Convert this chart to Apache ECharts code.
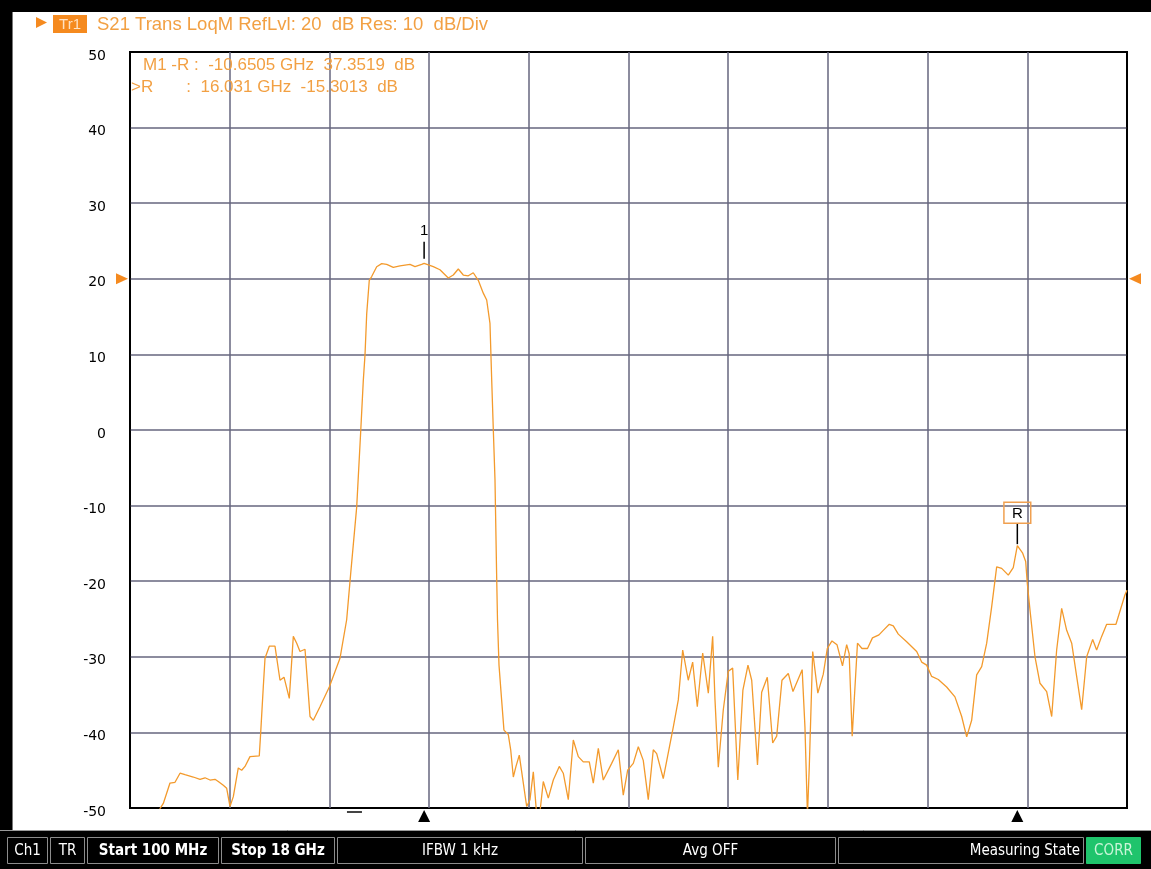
<!DOCTYPE html>
<html>
<head>
<meta charset="utf-8">
<script src="https://cdn.jsdelivr.net/npm/echarts@6/dist/echarts.min.js"></script>
<style>
  html, body { margin: 0; padding: 0; background: #fff; }
  #chart { width: 1151px; height: 869px; }
</style>
</head>
<body>
<div id="chart"></div>
<script>
// Sweep settings
const startGHz = 0.1;
const stopGHz = 18;
const freqDivisions = 10;
const refLevelDb = 20;
const dbPerDiv = 10;
const yMin = -50;
const yMax = 50;

// S21 trace: frequency (GHz) and magnitude (dB)
const freqGHz = [
  0.603, 0.698, 0.818, 0.908, 0.998, 1.087, 1.236, 1.357, 1.447, 1.536,
  1.626, 1.685, 1.775, 1.836, 1.895, 1.955, 2.044, 2.105, 2.165, 2.254,
  2.421, 2.446, 2.493, 2.524, 2.601, 2.703, 2.793, 2.865, 2.960, 3.032,
  3.093, 3.152, 3.242, 3.332, 3.391, 3.511, 3.678, 3.870, 3.990, 4.062,
  4.170, 4.242, 4.289, 4.319, 4.350, 4.396, 4.439, 4.529, 4.619, 4.709,
  4.827, 4.947, 5.127, 5.217, 5.337, 5.3805, 5.545, 5.665, 5.815, 5.904,
  5.994, 6.084, 6.174, 6.263, 6.353, 6.443, 6.504, 6.563, 6.594, 6.623,
  6.653, 6.684, 6.698, 6.725, 6.772, 6.814, 6.892, 6.935, 6.982, 7.030,
  7.089, 7.132, 7.222, 7.281, 7.341, 7.402, 7.461, 7.520, 7.610, 7.700,
  7.807, 7.879, 7.969, 8.059, 8.149, 8.238, 8.346, 8.418, 8.508, 8.597,
  8.748, 8.867, 8.956, 9.035, 9.136, 9.226, 9.315, 9.405, 9.495, 9.556,
  9.674, 9.854, 9.944, 10.023, 10.123, 10.202, 10.285, 10.382, 10.483, 10.561,
  10.603, 10.662, 10.752, 10.842, 10.920, 11.012, 11.104, 11.195, 11.262, 11.366,
  11.441, 11.542, 11.639, 11.711, 11.805, 11.919, 12.003, 12.168, 12.218, 12.263,
  12.296, 12.357, 12.449, 12.547, 12.619, 12.703, 12.793, 12.892, 12.967, 13.012,
  13.066, 13.161, 13.242, 13.341, 13.430, 13.547, 13.624, 13.732, 13.804, 13.894,
  14.044, 14.224, 14.314, 14.403, 14.493, 14.612, 14.762, 14.911, 15.032, 15.122,
  15.211, 15.301, 15.391, 15.481, 15.570, 15.660, 15.750, 15.869, 15.958, 16.031,
  16.127, 16.181, 16.210, 16.258, 16.348, 16.438, 16.558, 16.648, 16.737, 16.827,
  16.917, 17.007, 17.096, 17.186, 17.276, 17.384, 17.455, 17.545, 17.635, 17.802,
  17.964, 18.0
];
const s21dB = [
  -50.5, -49.4, -46.7, -46.6, -45.4, -45.6, -45.9, -46.2, -46.0, -46.3,
  -46.2, -46.5, -47.0, -47.4, -49.8, -48.5, -44.7, -45.0, -44.5, -43.2,
  -43.1, -40.1, -34.0, -30.2, -28.6, -28.6, -33.1, -32.7, -35.5, -27.3,
  -28.2, -29.3, -29.0, -37.9, -38.4, -36.6, -34.0, -30.2, -25.1, -19.0,
  -10.2, -0.2, 6.6, 9.9, 15.4, 19.8, 20.3, 21.6, 22.0, 21.9,
  21.5, 21.7, 21.9, 21.6, 21.9, 22.0506, 21.6, 21.2, 20.1, 20.5,
  21.3, 20.5, 20.4, 20.8, 19.8, 18.1, 17.2, 14.1, 6.6, 0.0,
  -6.6, -19.8, -25.1, -31.1, -35.7, -39.7, -40.3, -42.3, -45.9, -44.5,
  -43.0, -45.2, -49.8, -48.9, -45.2, -51.0, -50.5, -46.5, -48.7, -46.3,
  -44.5, -45.4, -48.9, -41.0, -43.2, -43.9, -43.9, -46.7, -42.1, -46.3,
  -44.1, -42.3, -48.3, -45.0, -44.1, -41.9, -43.7, -48.9, -42.3, -42.8,
  -46.1, -39.3, -35.7, -29.1, -33.1, -30.7, -36.6, -29.5, -34.8, -27.3,
  -35.7, -44.6, -37.0, -31.9, -31.5, -46.3, -34.4, -31.1, -33.1, -44.3,
  -34.7, -32.7, -41.4, -40.5, -33.1, -32.2, -34.6, -31.7, -39.3, -50.9,
  -44.5, -29.3, -34.8, -32.3, -28.9, -27.9, -28.4, -31.2, -28.4, -29.6,
  -40.5, -28.2, -28.9, -28.9, -27.5, -27.1, -26.5, -25.7, -25.9, -27.0,
  -28.0, -29.3, -30.7, -31.1, -32.6, -33.0, -34.0, -35.3, -37.9, -40.6,
  -38.4, -32.4, -31.3, -28.2, -23.4, -18.1, -18.3, -19.2, -18.2, -15.3013,
  -16.3, -17.4, -20.3, -23.8, -30.0, -33.5, -34.6, -37.9, -29.1, -23.6,
  -26.5, -28.2, -32.6, -37.0, -30.0, -27.7, -29.1, -27.3, -25.7, -25.7,
  -21.8, -21.2
];

// Markers
const markerM1 = { freq: 5.3805, value: 22.0506 };
const markerRef = { freq: 16.031, value: -15.3013 };
const stubMarkFreq = 4.13;

// Status bar entries
const statusItems = [
  { text: 'Ch1', bold: false },
  { text: 'TR', bold: false },
  { text: 'Start ' + Math.round(startGHz * 1000) + ' MHz', bold: true },
  { text: 'Stop ' + stopGHz + ' GHz', bold: true },
  { text: 'IFBW 1 kHz', bold: false },
  { text: 'Avg OFF', bold: false },
  { text: 'Measuring State', bold: false },
  { text: 'CORR', bold: false }
];

const traceTitle = 'S21 Trans LoqM RefLvl: ' + refLevelDb + '  dB Res: ' + dbPerDiv + '  dB/Div';
const readoutLines = [
  'M1 -R :  ' + (markerM1.freq - markerRef.freq).toFixed(4) + ' GHz  ' + (markerM1.value - markerRef.value).toFixed(4) + '  dB',
  '>R       :  ' + markerRef.freq.toFixed(3) + ' GHz  ' + markerRef.value.toFixed(4) + '  dB'
];

const ORANGE = '#f58a1f';
const TRACE = '#f39a2c';
const TEXT_ORANGE = '#f2a043';
const GRID = '#66667e';
const UI_FONT = '"DejaVu Sans Condensed", "DejaVu Sans", sans-serif';
const AXIS_FONT = '"DejaVu Sans", sans-serif';
const LABEL_FONT = '"Liberation Sans", Arial, sans-serif';

function lineColors(count) {
  const arr = [];
  for (let i = 0; i <= count; i++) arr.push(i === 0 || i === count ? '#000' : GRID);
  return arr;
}

const triUp = 'path://M5,0 L10,10 L0,10 Z';
const triRight = 'path://M0,0 L10,5 L0,10 Z';
const triLeft = 'path://M10,0 L0,5 L10,10 Z';

// Status bar layout (box x, width)
const statusBoxes = [[7, 41], [50, 35], [87, 132], [221, 114], [337, 246], [585, 251], [838, 246], [1086, 55]];
const statusGraphics = [];
statusGraphics.push({ type: 'rect', shape: { x: 0, y: 830, width: 1151, height: 39 }, style: { fill: '#000' }, z: 10 });
statusGraphics.push({ type: 'line', shape: { x1: 0, y1: 830.5, x2: 1151, y2: 830.5 }, style: { stroke: '#9a9a9a', lineWidth: 1 }, z: 11 });
statusItems.forEach((item, i) => {
  const [bx, bw] = statusBoxes[i];
  const isCorr = item.text === 'CORR';
  const isMeas = item.text === 'Measuring State';
  statusGraphics.push({
    type: 'rect',
    shape: { x: bx + 0.5, y: 837.5, width: bw - 1, height: 26 },
    style: { fill: isCorr ? '#1fc46c' : '#000', stroke: isCorr ? '#1fc46c' : '#8c8c8c', lineWidth: 1 },
    z: 11
  });
  statusGraphics.push({
    type: 'text',
    x: isMeas ? bx + bw - 4 : bx + bw / 2,
    y: 851,
    style: {
      text: item.text,
      fill: isCorr ? '#c9f5d8' : '#fff',
      font: (item.bold ? 'bold ' : '') + '15px ' + UI_FONT,
      align: isMeas ? 'right' : 'center',
      verticalAlign: 'middle'
    },
    z: 12
  });
});

const chart = echarts.init(document.getElementById('chart'), null, { renderer: 'canvas' });

chart.setOption({
  animation: false,
  backgroundColor: '#fff',
  grid: {
    left: 130, right: 24, top: 52, bottom: 61,
    show: true, backgroundColor: '#fff', borderColor: '#000', borderWidth: 2,
    containLabel: false
  },
  xAxis: [
    {
      type: 'value', min: startGHz, max: stopGHz,
      axisLine: { show: false }, axisTick: { show: false }, axisLabel: { show: false },
      splitLine: { show: false }
    },
    {
      type: 'value', min: 0, max: freqDivisions, interval: 1, position: 'bottom',
      axisLine: { show: false }, axisTick: { show: false }, axisLabel: { show: false },
      splitLine: { show: true, lineStyle: { color: lineColors(freqDivisions), width: 1.5 } }
    }
  ],
  yAxis: {
    type: 'value', min: yMin, max: yMax, interval: dbPerDiv,
    axisLine: { show: false }, axisTick: { show: false },
    axisLabel: {
      color: '#000', fontSize: 14, fontFamily: AXIS_FONT, margin: 24,
      verticalAlign: 'top', lineHeight: 8
    },
    splitLine: { show: true, lineStyle: { color: lineColors((yMax - yMin) / dbPerDiv), width: 1.5 } }
  },
  series: [
    {
      type: 'line',
      xAxisIndex: 0,
      data: freqGHz.map((f, i) => [f, s21dB[i]]),
      showSymbol: false,
      clip: true,
      lineStyle: { color: TRACE, width: 1.3 },
      z: 5,
      markPoint: {
        silent: true,
        animation: false,
        data: [
          {
            coord: [markerM1.freq, markerM1.value], symbol: 'rect', symbolSize: [1.5, 17], symbolOffset: [0, -13],
            itemStyle: { color: '#000' },
            label: { show: true, position: 'top', distance: 3, formatter: '1', color: '#000', fontSize: 15, fontFamily: LABEL_FONT }
          },
          {
            coord: [markerRef.freq, markerRef.value], symbol: 'rect', symbolSize: [1.5, 21], symbolOffset: [0, -12],
            itemStyle: { color: '#000' },
            label: {
              show: true, position: 'top', distance: 0, formatter: 'R', color: '#000', fontSize: 15, fontFamily: LABEL_FONT,
              borderColor: '#f0a050', borderWidth: 1.5, padding: [4, 8, 2, 8], lineHeight: 15
            }
          },
          {
            coord: [markerM1.freq, yMin], symbol: triUp, symbolSize: [12, 12], symbolOffset: [0, 8],
            itemStyle: { color: '#000' }, label: { show: false }
          },
          {
            coord: [markerRef.freq, yMin], symbol: triUp, symbolSize: [12, 12], symbolOffset: [0, 8],
            itemStyle: { color: '#000' }, label: { show: false }
          },
          {
            coord: [stubMarkFreq, yMin], symbol: 'rect', symbolSize: [15, 2], symbolOffset: [0, 4],
            itemStyle: { color: '#444' }, label: { show: false }
          },
          {
            coord: [startGHz, refLevelDb], symbol: triRight, symbolSize: [12, 11], symbolOffset: [-8, 0],
            itemStyle: { color: ORANGE }, label: { show: false }
          },
          {
            coord: [stopGHz, refLevelDb], symbol: triLeft, symbolSize: [12, 11], symbolOffset: [8, 0],
            itemStyle: { color: ORANGE }, label: { show: false }
          }
        ]
      }
    }
  ],
  graphic: [
    { type: 'rect', shape: { x: 0, y: 0, width: 1151, height: 12 }, style: { fill: '#000' }, z: 10 },
    { type: 'rect', shape: { x: 0, y: 0, width: 12, height: 832 }, style: { fill: '#000' }, z: 10 },
    { type: 'line', shape: { x1: 12.5, y1: 12, x2: 12.5, y2: 832 }, style: { stroke: '#777', lineWidth: 1 }, z: 10 },
    { type: 'polygon', shape: { points: [[36, 17], [47, 22.5], [36, 28]] }, style: { fill: ORANGE }, z: 10 },
    { type: 'rect', shape: { x: 53, y: 15, width: 34, height: 18 }, style: { fill: ORANGE }, z: 10 },
    {
      type: 'text', x: 70, y: 24.5,
      style: { text: 'Tr1', fill: '#ffe2c4', font: '15px ' + LABEL_FONT, align: 'center', verticalAlign: 'middle' },
      z: 11
    },
    {
      type: 'text', x: 97, y: 24.5,
      style: { text: traceTitle, fill: TEXT_ORANGE, font: '18.5px ' + LABEL_FONT, align: 'left', verticalAlign: 'middle' },
      z: 11
    },
    {
      type: 'text', x: 143, y: 65,
      style: { text: readoutLines[0], fill: TEXT_ORANGE, font: '17px ' + LABEL_FONT, align: 'left', verticalAlign: 'middle' },
      z: 11
    },
    {
      type: 'text', x: 131, y: 87,
      style: { text: readoutLines[1], fill: TEXT_ORANGE, font: '17px ' + LABEL_FONT, align: 'left', verticalAlign: 'middle' },
      z: 11
    }
  ].concat(statusGraphics)
});
</script>
</body>
</html>
